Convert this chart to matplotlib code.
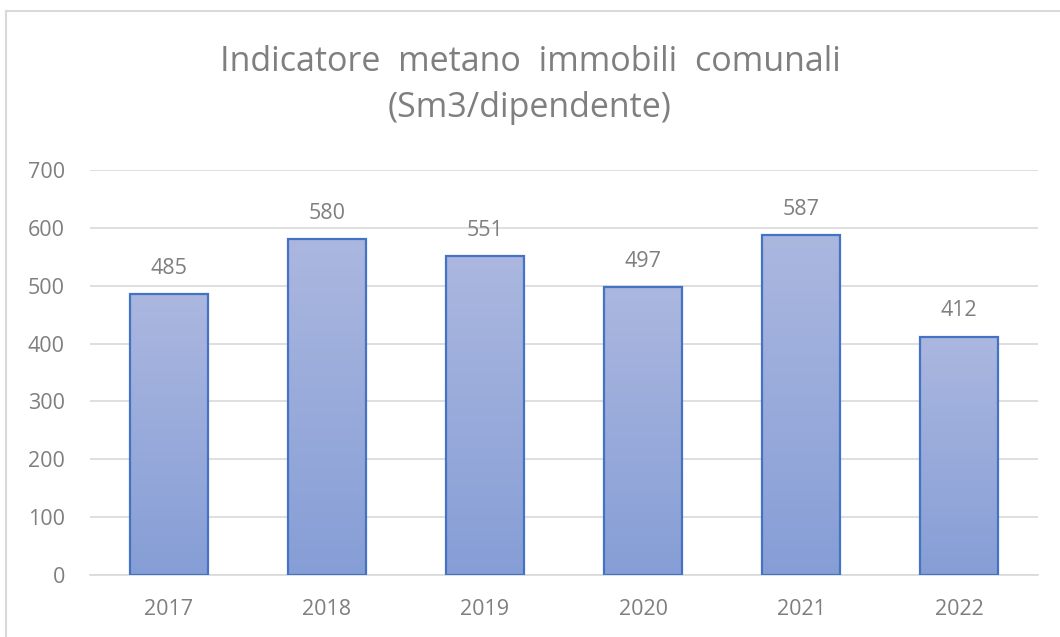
import matplotlib
matplotlib.use("Agg")
import matplotlib.pyplot as plt
import numpy as np
from matplotlib.lines import Line2D
from matplotlib.colors import LinearSegmentedColormap

years = ["2017", "2018", "2019", "2020", "2021", "2022"]
values = [485, 580, 551, 497, 587, 412]
title = "Indicatore  metano  immobili  comunali\n(Sm3/dipendente)"

plt.rcParams['font.family'] = ['Open Sans', 'DejaVu Sans']
W, H = 1060, 637
fig = plt.figure(figsize=(W / 100, H / 100), dpi=100)
fig.patch.set_facecolor("white")

ax = fig.add_axes([90 / W, 62 / H, 948 / W, 405 / H])
x = np.arange(len(years))
bars = ax.bar(x, values, width=0.49, facecolor="none", edgecolor="#4472C4",
              linewidth=1.6, zorder=3)

cmap = LinearSegmentedColormap.from_list("g", ["#869ED6", "#ABB7DF"])
grad = np.linspace(0, 1, 256).reshape(-1, 1)
for b in bars:
    x0, w, h = b.get_x(), b.get_width(), b.get_height()
    im = ax.imshow(grad, cmap=cmap, aspect="auto", origin="lower",
                   extent=[x0, x0 + w, 0, h], zorder=2)
    im.set_clip_path(b)

for xi, v in zip(x, values):
    ax.text(xi, v + 27, str(v), ha="center", va="bottom", fontsize=15.5,
            color="#7F7F7F")

ax.set_xlim(-0.5, len(years) - 0.5)
ax.set_ylim(0, 700)
ax.set_yticks(range(0, 701, 100))
ax.set_xticks(x)
ax.set_xticklabels(years)
ax.tick_params(axis="both", length=0, labelsize=15.5, labelcolor="#7F7F7F")
ax.tick_params(axis="y", pad=18)
ax.tick_params(axis="x", pad=17)
ax.grid(axis="y", color="#D9D9D9", linewidth=1.2, zorder=0)
ax.set_axisbelow(True)
for s in ["top", "right", "left"]:
    ax.spines[s].set_visible(False)
ax.spines["bottom"].set_color("#D9D9D9")
ax.spines["bottom"].set_linewidth(1.2)

fig.text(0.5, 1 - 85 / H, title, ha="center", va="center", fontsize=24.5,
         color="#7F7F7F", linespacing=1.45)

fig.add_artist(Line2D([6 / W, 6 / W], [0, 1 - 10.5 / H], transform=fig.transFigure,
                      color="#D9D9D9", linewidth=1.5))
fig.add_artist(Line2D([6 / W, 1], [1 - 10.5 / H, 1 - 10.5 / H], transform=fig.transFigure,
                      color="#D9D9D9", linewidth=1.5))

fig.savefig("out.png", dpi=100)
